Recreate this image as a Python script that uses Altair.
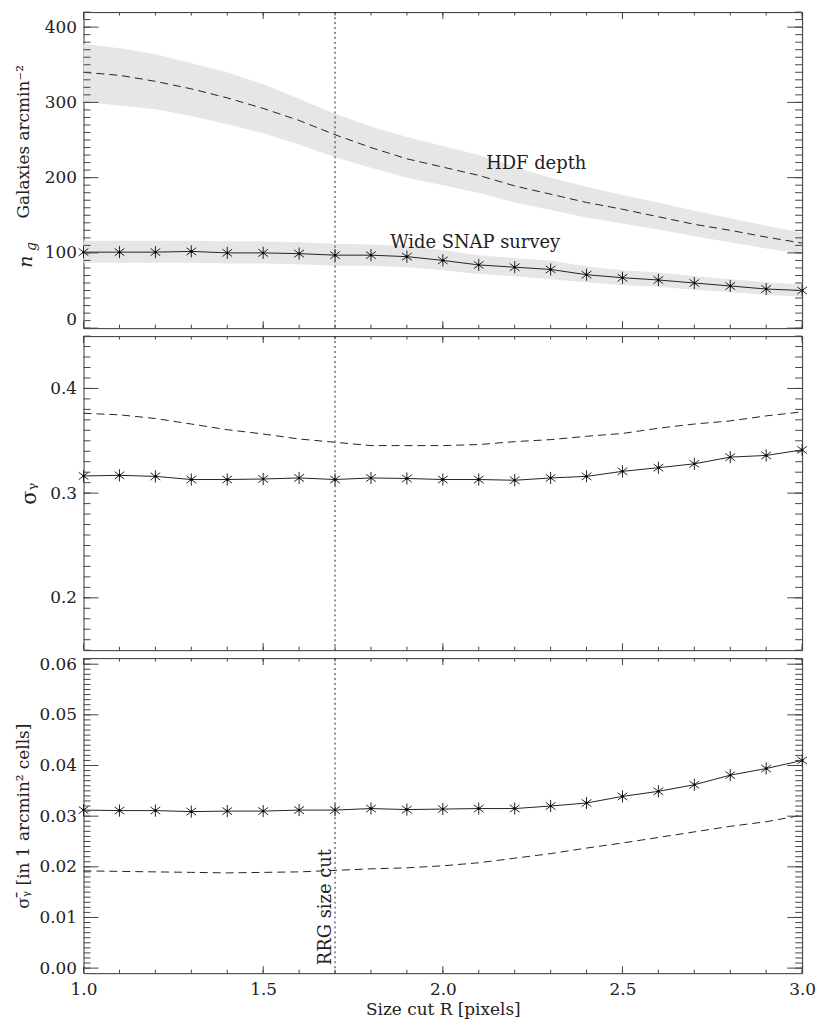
import altair as alt
import pandas as pd

# ---------------- data ----------------
R = [1.0, 1.1, 1.2, 1.3, 1.4, 1.5, 1.6, 1.7, 1.8, 1.9, 2.0,
     2.1, 2.2, 2.3, 2.4, 2.5, 2.6, 2.7, 2.8, 2.9, 3.0]

# top panel: galaxy number density
ng_hdf = [340, 336, 328, 318, 306, 292, 276, 257, 240, 225, 214,
          203, 189, 178, 167, 158, 148, 138, 130, 121, 113]
ng_hdf_hi = [378, 372, 364, 352, 340, 324, 305, 285, 268, 254, 242,
             230, 214, 200, 188, 177, 167, 156, 146, 136, 127]
ng_hdf_lo = [301, 296, 291, 282, 271, 259, 244, 227, 213, 200, 190,
             180, 167, 157, 147, 139, 131, 122, 114, 106, 99]
ng_snap = [101, 101, 101, 102, 100, 100, 99, 97, 97, 95, 90,
           84, 81, 78, 71, 67, 64, 60, 56, 52, 50]
ng_snap_hi = [116, 116, 116, 116, 115, 115, 114, 112, 111, 109, 104,
              97, 93, 90, 82, 77, 74, 69, 65, 61, 58]
ng_snap_lo = [87, 87, 87, 87, 86, 86, 85, 83, 83, 81, 77,
              72, 69, 65, 61, 57, 55, 51, 48, 44, 42]

# middle panel: shear dispersion per galaxy
sig_hdf = [0.3763, 0.3748, 0.3713, 0.3660, 0.3606, 0.3565, 0.3517, 0.3486, 0.3454, 0.3454, 0.3454,
           0.3464, 0.3492, 0.3511, 0.3543, 0.3570, 0.3620, 0.3660, 0.3690, 0.3738, 0.3776]
sig_snap = [0.3164, 0.3170, 0.3160, 0.3130, 0.3130, 0.3135, 0.3145, 0.3130, 0.3145, 0.3140, 0.3130,
            0.3130, 0.3123, 0.3145, 0.3160, 0.3208, 0.3243, 0.3280, 0.3344, 0.3360, 0.3413]

# bottom panel: shear noise in 1 arcmin^2 cells
cell_hdf = [0.0192, 0.0191, 0.0190, 0.0189, 0.0188, 0.0189, 0.0190, 0.0193, 0.0196, 0.0198, 0.0202,
            0.0208, 0.0217, 0.0226, 0.0237, 0.0247, 0.0258, 0.0269, 0.0280, 0.0289, 0.0302]
cell_snap = [0.0312, 0.0311, 0.0311, 0.0309, 0.0310, 0.0310, 0.0312, 0.0312, 0.0315, 0.0313, 0.0314,
             0.0315, 0.0315, 0.0320, 0.0326, 0.0339, 0.0349, 0.0362, 0.0381, 0.0394, 0.0410]

size_cut = [1.7]
label_text = ["HDF depth", "Wide SNAP survey"]
label_R = [2.26, 2.09]
label_ng = [218, 113]

x_major = [1.0, 1.5, 2.0, 2.5, 3.0]
x_minor = [1.0, 1.1, 1.2, 1.3, 1.4, 1.5, 1.6, 1.7, 1.8, 1.9, 2.0,
           2.1, 2.2, 2.3, 2.4, 2.5, 2.6, 2.7, 2.8, 2.9, 3.0]
top_major = [0, 100, 200, 300, 400]
top_minor = list(range(0, 421, 10))
mid_major = [0.2, 0.3, 0.4]
mid_minor = [round(0.15 + 0.01 * i, 2) for i in range(31)]
bot_major = [0.0, 0.01, 0.02, 0.03, 0.04, 0.05, 0.06]
bot_minor = [round(0.001 * i, 3) for i in range(62)]

# ---------------- styling ----------------
W = 723
H_TOP, H_MID, H_BOT = 318, 316, 317
FONT = "DejaVu Serif"
INK = "#222222"
TICK = "#444444"
BAND = "#e6e6e6"
ASTER = "M0,-1L0,1M-0.8,-0.6L0.8,0.6M-0.8,0.6L0.8,-0.6"

df = pd.DataFrame({
    "R": R,
    "ng_hdf": ng_hdf, "ng_hdf_hi": ng_hdf_hi, "ng_hdf_lo": ng_hdf_lo,
    "ng_snap": ng_snap, "ng_snap_hi": ng_snap_hi, "ng_snap_lo": ng_snap_lo,
    "sig_hdf": sig_hdf, "sig_snap": sig_snap,
    "cell_hdf": cell_hdf, "cell_snap": cell_snap,
})
df_cut = pd.DataFrame({"R": size_cut})
df_lab = pd.DataFrame({"R": label_R, "v": label_ng, "label": label_text})

xscale = alt.Scale(domain=[1.0, 3.0], nice=False, zero=False)


def make_panel(H, yscale, yaxis, xaxis, y_major, y_minor, body):
    """body(X, Y) -> list of layers; X(field), Y(field) give encodings sharing axes."""
    def X(field="R"):
        return alt.X(f"{field}:Q", scale=xscale, axis=xaxis)

    def Y(field):
        return alt.Y(f"{field}:Q", scale=yscale, axis=yaxis)

    layers = body(X, Y)
    layers.append(alt.Chart(df_cut).mark_rule(color=INK, strokeWidth=1, strokeDash=[2, 3])
                  .encode(x=X()))
    for vals, L in ((x_major, 7), (x_minor, 3.5)):
        base = alt.Chart(pd.DataFrame({"t": vals})).mark_rule(color=TICK, strokeWidth=1)
        layers.append(base.encode(x=X("t"), y=alt.value(0), y2=alt.value(L)))
        layers.append(base.encode(x=X("t"), y=alt.value(H - L), y2=alt.value(H)))
    for vals, L in ((y_major, 15), (y_minor, 7)):
        base = alt.Chart(pd.DataFrame({"v": vals})).mark_rule(color=TICK, strokeWidth=1)
        layers.append(base.encode(y=Y("v"), x=alt.value(0), x2=alt.value(L)))
        layers.append(base.encode(y=Y("v"), x=alt.value(W - L), x2=alt.value(W)))
    return alt.layer(*layers).properties(width=W, height=H)


def series(X, Y, yfield, dashed, markers):
    out = []
    if dashed:
        out.append(alt.Chart(df).mark_line(color=INK, strokeWidth=1, strokeDash=[8, 5])
                   .encode(x=X(), y=Y(yfield)))
    else:
        out.append(alt.Chart(df).mark_line(color=INK, strokeWidth=1).encode(x=X(), y=Y(yfield)))
    if markers:
        out.append(alt.Chart(df).mark_point(shape=ASTER, size=150, filled=False, stroke=INK,
                                            strokeWidth=1, opacity=1)
                   .encode(x=X(), y=Y(yfield)))
        out.append(alt.Chart(df).mark_circle(size=6, color="#000000", opacity=1)
                   .encode(x=X(), y=Y(yfield)))
    return out


# ---------------- top panel ----------------
ys_top = alt.Scale(domain=[0, 420], nice=False, zero=False)
ax_top = alt.Axis(values=top_major, format="d", ticks=False, domain=False, grid=False,
                  labelPadding=7, labelFlush=True, title="Galaxies arcmin\u207b\u00b2",
                  titlePadding=12, titleY=130)


def top_body(X, Y):
    layers = [
        alt.Chart(df).mark_area(color=BAND, opacity=1).encode(
            x=X(), y=Y("ng_hdf_lo"), y2="ng_hdf_hi:Q"),
        alt.Chart(df).mark_area(color=BAND, opacity=1).encode(
            x=X(), y=Y("ng_snap_lo"), y2="ng_snap_hi:Q"),
    ]
    layers += series(X, Y, "ng_hdf", True, False)
    layers += series(X, Y, "ng_snap", False, True)
    layers.append(alt.Chart(df_lab).mark_text(font=FONT, fontSize=18, color=INK, align="center",
                                              baseline="middle")
                  .encode(x=X(), y=Y("v"), text="label:N"))
    # subscripted symbol n_g of the y title
    layers.append(alt.Chart(df_cut).mark_text(text="n", font=FONT, fontSize=19, fontStyle="italic",
                                              color=INK, angle=270, align="center",
                                              baseline="alphabetic")
                  .encode(x=alt.value(-52), y=alt.value(251)))
    layers.append(alt.Chart(df_cut).mark_text(text="g", font=FONT, fontSize=14, fontStyle="italic",
                                              color=INK, angle=270, align="center",
                                              baseline="alphabetic")
                  .encode(x=alt.value(-48), y=alt.value(236)))
    return layers


top = make_panel(H_TOP, ys_top, ax_top, None, top_major, top_minor, top_body)

# ---------------- middle panel ----------------
ys_mid = alt.Scale(domain=[0.15, 0.45], nice=False, zero=False)
ax_mid = alt.Axis(values=mid_major, format=".1f", ticks=False, domain=False, grid=False,
                  labelPadding=7, labelFlush=False, title="\u03c3\u1d67", titlePadding=10,
                  titleFontSize=21)


def mid_body(X, Y):
    return series(X, Y, "sig_hdf", True, False) + series(X, Y, "sig_snap", False, True)


mid = make_panel(H_MID, ys_mid, ax_mid, None, mid_major, mid_minor, mid_body)

# ---------------- bottom panel ----------------
ys_bot = alt.Scale(domain=[-0.001, 0.0612], nice=False, zero=False)
ax_bot = alt.Axis(values=bot_major, format=".2f", ticks=False, domain=False, grid=False,
                  labelPadding=7, labelFlush=False,
                  title="\u03c3\u1d67\u0304 [in 1 arcmin\u00b2 cells]", titlePadding=7)
ax_x = alt.Axis(values=x_major, format=".1f", ticks=False, domain=False, grid=False,
                labelPadding=8, labelFlush=False, title="Size cut R [pixels]", titlePadding=5)


def bot_body(X, Y):
    layers = series(X, Y, "cell_hdf", True, False) + series(X, Y, "cell_snap", False, True)
    layers.append(alt.Chart(df_cut).mark_text(text="RRG size cut", font=FONT, fontSize=18,
                                              color=INK, angle=270, align="left",
                                              baseline="alphabetic", dx=3, dy=-4)
                  .encode(x=X(), y=alt.value(H_BOT - 5)))
    return layers


bot = make_panel(H_BOT, ys_bot, ax_bot, ax_x, bot_major, bot_minor, bot_body)

chart = (
    alt.vconcat(top, mid, bot, spacing=8, bounds="flush")
    .properties(padding={"left": 5, "top": 0, "right": 5, "bottom": 0}, background="white")
    .configure_view(stroke="#333333", strokeWidth=1)
    .configure_axis(labelFont=FONT, labelFontSize=17, labelColor=INK,
                    titleFont=FONT, titleFontSize=17, titleFontWeight="normal", titleColor=INK)
)

chart.save("out.html", embed_options={"renderer": "svg", "actions": False})
